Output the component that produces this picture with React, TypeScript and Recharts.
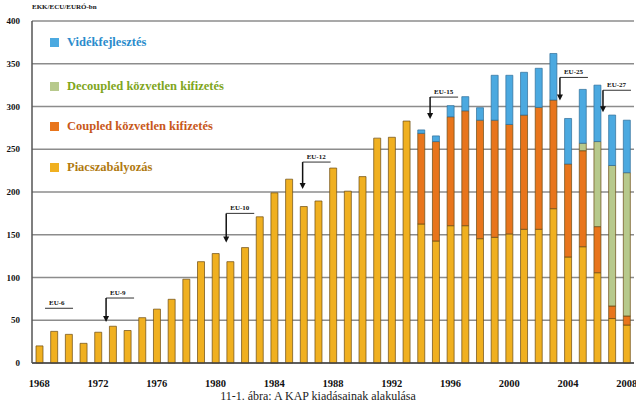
import React from 'react';
import { BarChart, Bar, XAxis, YAxis, CartesianGrid, ReferenceDot } from 'recharts';

const years = [
  '1968', '1969', '1970', '1971', '1972', '1973', '1974', '1975', '1976', '1977',
  '1978', '1979', '1980', '1981', '1982', '1983', '1984', '1985', '1986', '1987',
  '1988', '1989', '1990', '1991', '1992', '1993', '1994', '1995', '1996', '1997',
  '1998', '1999', '2000', '2001', '2002', '2003', '2004', '2005', '2006', '2007', '2008',
];

// Piacszabályozás
const market = [
  20, 37, 33.5, 23, 36, 43, 38, 53, 63, 74.5,
  98, 118.5, 128, 118.5, 135, 171, 199, 215, 183, 189.5,
  228, 201, 218, 263, 264, 283, 162.6, 142.7, 160.6, 160.6,
  145.4, 147, 151, 156.4, 156.4, 180.5, 124, 136, 105.6, 52, 44.4,
];

// Coupled közvetlen kifizetés (1994-től)
const coupled = [106, 116.3, 127.4, 134.4, 138.6, 137, 128, 133.6, 142.6, 127.1, 108.8, 112.3, 53.9, 14.7, 10.6];
// Decoupled közvetlen kifizetés (2005-től)
const decoupled = [8.7, 99.5, 164.3, 167.6];
// Vidékfejlesztés (1994-től)
const rural = [4, 6.6, 13, 16.5, 14.6, 52.5, 57.5, 50, 45.7, 54.4, 53.2, 63, 66, 59, 61.4];

const yTicks = [0, 50, 100, 150, 200, 250, 300, 350, 400];

const enlargements = [
  { label: 'EU-6', year: '1969', value: 64, arrow: 0, dx: -9 },
  { label: 'EU-9', year: '1972', value: 76, arrow: 24, dx: 8 },
  { label: 'EU-10', year: '1981', value: 175, arrow: 29, dx: -4 },
  { label: 'EU-12', year: '1986', value: 235, arrow: 27, dx: -1 },
  { label: 'EU-15', year: '1994', value: 311, arrow: 22, dx: 9 },
  { label: 'EU-25', year: '2004', value: 334, arrow: 23, dx: -8 },
  { label: 'EU-27', year: '2007', value: 319, arrow: 22, dx: -9 },
];

const C = {
  market: '#f0b020',
  coupled: '#e8751c',
  decoupled: '#b7c98c',
  rural: '#4ba9e0',
  edge: '#6a4a12',
};

const data = years.map((y, i) => {
  const k = i - 26;
  const d = i - 37;
  return {
    year: y,
    market: market[i],
    coupled: k >= 0 ? coupled[k] : 0,
    decoupled: d >= 0 ? decoupled[d] : 0,
    rural: k >= 0 ? rural[k] : 0,
  };
});

const serif = '"Liberation Serif", "DejaVu Serif", serif';

const legendItems = [
  { label: 'Vidékfejlesztés', color: C.rural, text: '#2a8ccc', top: 35 },
  { label: 'Decoupled közvetlen kifizetés', color: C.decoupled, text: '#7fa61c', top: 79 },
  { label: 'Coupled közvetlen kifizetés', color: C.coupled, text: '#c8581a', top: 119 },
  { label: 'Piacszabályozás', color: C.market, text: '#b07a10', top: 160 },
];

const YTick = (props: any) => {
  const { x, y, payload } = props;
  return (
    <text x={x - 4} y={y + 3} textAnchor="end" fontFamily={serif} fontWeight="bold" fontSize={9} fill="#111">
      {payload.value}
    </text>
  );
};

const XTick = (props: any) => {
  const { x, y, payload } = props;
  return (
    <text x={x} y={y + 16} textAnchor="middle" fontFamily={serif} fontWeight="bold" fontSize={10.5} fill="#111">
      {payload.value}
    </text>
  );
};

const EnlargeMark = (ann: { label: string; arrow: number; dx: number }) => (props: any) => {
  const { cx, cy } = props;
  const x0 = cx + ann.dx;
  return (
    <g>
      <text x={x0 + 4} y={cy - 3} fontFamily={serif} fontWeight="bold" fontSize={7} fill="#111">
        {ann.label}
      </text>
      <line x1={x0} y1={cy} x2={x0 + 28} y2={cy} stroke="#333" strokeWidth={1} />
      {ann.arrow > 0 && (
        <>
          <line x1={x0} y1={cy} x2={x0} y2={cy + ann.arrow - 4} stroke="#111" strokeWidth={1.5} />
          <path d={`M${x0 - 3},${cy + ann.arrow - 6} L${x0 + 3},${cy + ann.arrow - 6} L${x0},${cy + ann.arrow} Z`} fill="#111" />
        </>
      )}
    </g>
  );
};

export default function App() {
  return (
    <div style={{ position: 'absolute', left: 0, top: 0, width: 636, height: 402, background: '#fff', overflow: 'hidden' }}>
      <BarChart width={636} height={402} data={data} margin={{ top: 21, right: 2, left: 0, bottom: 0 }} barSize={7}>
        <CartesianGrid vertical={false} stroke="#8c8c8c" strokeWidth={1.3} />
        <XAxis
          dataKey="year"
          interval={3}
          tick={<XTick />}
          tickLine={false}
          axisLine={{ stroke: '#444', strokeWidth: 1.5 }}
          height={39}
        />
        <YAxis
          domain={[0, 400]}
          ticks={yTicks}
          width={32}
          tick={<YTick />}
          tickLine={false}
          axisLine={{ stroke: '#555', strokeWidth: 1.5 }}
        />
        <Bar dataKey="market" stackId="a" fill={C.market} stroke={C.edge} strokeWidth={0.7} isAnimationActive={false} />
        <Bar dataKey="coupled" stackId="a" fill={C.coupled} stroke={C.edge} strokeWidth={0.7} isAnimationActive={false} />
        <Bar dataKey="decoupled" stackId="a" fill={C.decoupled} stroke={C.edge} strokeWidth={0.7} isAnimationActive={false} />
        <Bar dataKey="rural" stackId="a" fill={C.rural} stroke="#2f6f9a" strokeWidth={0.7} isAnimationActive={false} />
        {enlargements.map((a) => (
          <ReferenceDot key={a.label} x={a.year} y={a.value} ifOverflow="visible" shape={EnlargeMark(a)} />
        ))}
      </BarChart>

      <div style={{ position: 'absolute', left: 32, top: 3, fontFamily: serif, fontWeight: 'bold', fontSize: 7, color: '#111' }}>
        EKK/ECU/EURÓ-bn
      </div>

      {legendItems.map((l) => (
        <div key={l.label} style={{ position: 'absolute', left: 50, top: l.top, display: 'flex', alignItems: 'center' }}>
          <div style={{ width: 9, height: 9, background: l.color, marginRight: 8 }} />
          <span style={{ fontFamily: serif, fontWeight: 'bold', fontSize: 12.5, color: l.text, whiteSpace: 'nowrap' }}>{l.label}</span>
        </div>
      ))}

      <div style={{ position: 'absolute', left: 0, width: 636, top: 390, lineHeight: '12px', textAlign: 'center', fontFamily: serif, fontSize: 12, color: '#222' }}>
        11-1. ábra: A KAP kiadásainak alakulása
      </div>
    </div>
  );
}
